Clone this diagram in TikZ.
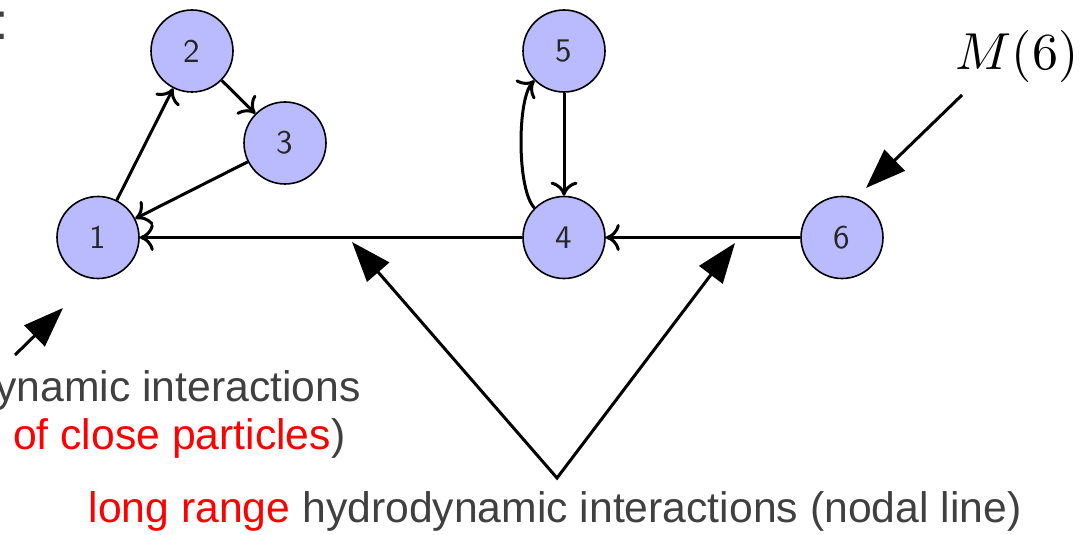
\documentclass[tikz,border=0pt]{standalone}
\usepackage[no-math]{fontspec}
\setmainfont{Liberation Sans}
\usetikzlibrary{arrows.meta}
\newcommand{\pnum}[1]{\scalebox{3.3}{\sffamily #1}}

\begin{document}
\begin{tikzpicture}[x=1pt, y=1pt, >={To[length=14pt,width=27pt]},
    bigtip/.tip={Triangle[length=40pt,width=29pt]},
    particle/.style={circle, draw=black, line width=1.6pt, fill=blue!27, minimum size=82pt, inner sep=0pt, text=black!85},
    link/.style={->, line width=3pt},
    pointer/.style={-bigtip, line width=3pt},
    note/.style={inner sep=0pt, text=black!75, font=\fontsize{42.7}{48}\selectfont}]
  \useasboundingbox (0,0) rectangle (1092,535);
  \clip (0,0) rectangle (1092,535);

  % particles
  \node[particle] (n1) at (98,297.5) {\pnum{1}};
  \node[particle] (n2) at (192,484) {\pnum{2}};
  \node[particle] (n3) at (285,392) {\pnum{3}};
  \node[particle] (n4) at (564,297.5) {\pnum{4}};
  \node[particle] (n5) at (564,484) {\pnum{5}};
  \node[particle] (n6) at (842,297.5) {\pnum{6}};

  \draw[link] (n1) -- (n2);
  \draw[link] (n2) -- (n3);
  \draw[link] (n3) -- (n1);
  \draw[link] (n4) -- (n1);
  \draw[link] (n6) -- (n4);
  \draw[link] (n5) -- (n4);
  \draw[link] (n4) to[bend left=45, looseness=0.5] (n5);

  % labels
  \node[inner sep=0pt, anchor=base west, text=black!75, font=\fontsize{52}{60}\selectfont] (colon) at (-6,495) {:};
  \node[inner sep=0pt, anchor=base] (mlabel) at (1017,465) {\scalebox{5.2}{$M(6)$}};
  \node[note, anchor=base east] (shorttxt) at (361,133) {ynamic interactions};
  \node[note, anchor=base east] (closetxt) at (345.5,85) {\textcolor{red}{of close particles})};
  \node[note, anchor=base] (longtxt) at (555,12) {\textcolor{red}{long range} hydrodynamic interactions (nodal line)};

  % pointers
  \coordinate (mtail) at (962,440);
  \coordinate (mtip) at (866,347);
  \coordinate (ltail) at (15,180);
  \coordinate (ltip) at (63,227);
  \coordinate (vtx) at (557,57);
  \coordinate (hitL) at (352,293);
  \coordinate (hitR) at (735,292);
  \draw[pointer] (mtail) -- (mtip);
  \draw[pointer] (ltail) -- (ltip);
  \draw[line width=3pt, bigtip-bigtip] (hitL) -- (vtx) -- (hitR);
\end{tikzpicture}
\end{document}
